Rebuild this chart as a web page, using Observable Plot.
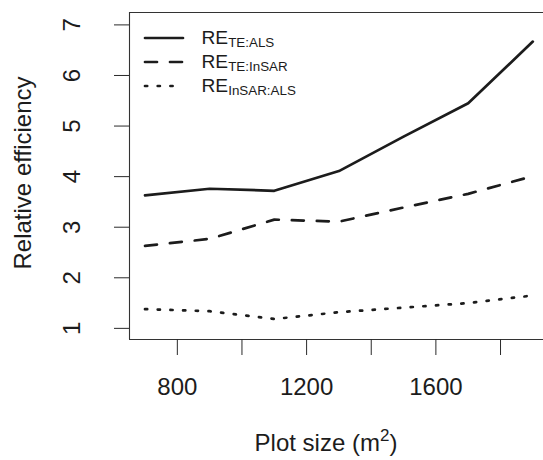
<!DOCTYPE html>
<html>
<head>
<meta charset="utf-8">
<script src="https://cdn.jsdelivr.net/npm/d3@7"></script>
<script src="https://cdn.jsdelivr.net/npm/@observablehq/plot@0.6"></script>
<style>
  html, body { margin: 0; padding: 0; background: #fff; overflow: hidden; }
  #chart svg { display: block; }
</style>
</head>
<body>
<div id="chart"></div>
<script>
// Relative efficiency of three estimator pairs against plot size
const plotSizes  = [700, 900, 1100, 1300, 1500, 1700, 1900];
const reTeAls    = [3.63, 3.76, 3.72, 4.11, 4.79, 5.45, 6.67];
const reTeInsar  = [2.63, 2.77, 3.15, 3.11, 3.39, 3.66, 4.01];
const reInsarAls = [1.38, 1.34, 1.185, 1.32, 1.41, 1.50, 1.65];
const seriesKeys = ["TE:ALS", "TE:InSAR", "InSAR:ALS"];

const xTicks      = [800, 1000, 1200, 1400, 1600, 1800];
const xTickLabels = [800, 1200, 1600];
const yTicks      = [1, 2, 3, 4, 5, 6, 7];

const xTitle = "Plot size (m";
const xTitleSup = "2";
const yTitle = "Relative efficiency";
const legendPrefix = "RE";

// long-format table for Plot
const seriesValues = [reTeAls, reTeInsar, reInsarAls];
const rows = seriesKeys.flatMap((key, i) =>
  plotSizes.map((size, j) => ({ size, value: seriesValues[i][j], key })));

const font = "'Liberation Sans', Arial, Helvetica, sans-serif";
const ink = "#1c1c1c";
const lineWidth = 2.7;
const dashes = { "TE:ALS": null, "TE:InSAR": "12,13", "InSAR:ALS": "2.2,10.5" };

const W = 543, H = 460;
const xDomain = [652, 1933];
const yDomain = [0.78, 7.245];

const lineMarks = seriesKeys.map(key =>
  Plot.line(rows.filter(d => d.key === key), {
    x: "size", y: "value",
    stroke: ink, strokeWidth: lineWidth,
    strokeDasharray: dashes[key],
    strokeLinecap: "round", strokeLinejoin: "round"
  }));

const chart = Plot.plot({
  width: W, height: H,
  marginLeft: 129, marginRight: 0, marginTop: 12, marginBottom: 121,
  style: { fontFamily: font, color: "#2a2a2a", background: "#fff", overflow: "visible" },
  x: { domain: xDomain },
  y: { domain: yDomain },
  marks: [
    // plot box: left, top and bottom edges
    Plot.ruleX([xDomain[0]], { stroke: "#333", strokeWidth: 1.1 }),
    Plot.ruleY(yDomain, { stroke: "#333", strokeWidth: 1.1 }),
    Plot.axisX({
      ticks: xTicks, tickSize: 16, tickPadding: 22,
      tickFormat: d => xTickLabels.includes(d) ? String(d) : "",
      fontSize: 24, label: null, fill: ink
    }),
    Plot.axisY({
      ticks: yTicks, tickSize: 15,
      tickFormat: () => "", label: null
    }),
    // y tick labels, set parallel to the axis
    Plot.text(yTicks, {
      y: d => d, text: d => String(d),
      frameAnchor: "left", dx: -50, rotate: -90,
      textAnchor: "middle", lineAnchor: "bottom",
      fontSize: 24, fill: ink
    }),
    ...lineMarks
  ]
});

document.getElementById("chart").append(chart);

// axis titles and legend
const svg = d3.select(chart);

const xt = svg.append("text")
  .attr("x", 326).attr("y", 451)
  .attr("text-anchor", "middle")
  .attr("font-family", font).attr("font-size", 24).attr("fill", ink);
xt.append("tspan").text(xTitle);
xt.append("tspan").attr("font-size", 17).attr("dy", -10).text(xTitleSup);
xt.append("tspan").attr("dy", 10).text(")");

svg.append("text")
  .attr("transform", "translate(30.5,173) rotate(-90)")
  .attr("text-anchor", "middle")
  .attr("font-family", font).attr("font-size", 24).attr("fill", ink)
  .text(yTitle);

const legend = svg.append("g").attr("text-anchor", "start");
seriesKeys.forEach((key, i) => {
  const base = 44 + i * 24;
  legend.append("line")
    .attr("x1", 145).attr("x2", 183)
    .attr("y1", base - 6).attr("y2", base - 6)
    .attr("stroke", ink).attr("stroke-width", lineWidth)
    .attr("stroke-linecap", "round")
    .attr("stroke-dasharray", dashes[key]);
  const t = legend.append("text")
    .attr("x", 201.5).attr("y", base)
    .attr("text-anchor", "start")
    .attr("font-family", font).attr("font-size", 19.2).attr("fill", ink);
  t.append("tspan").text(legendPrefix);
  t.append("tspan").attr("font-size", 13.4).attr("dy", 2.5).text(key);
});
</script>
</body>
</html>
